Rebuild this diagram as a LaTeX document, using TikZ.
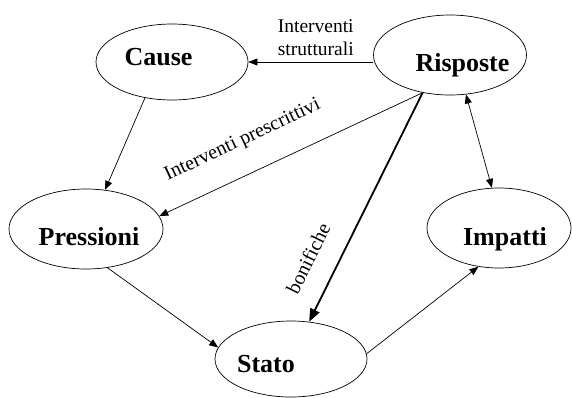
\documentclass[tikz,border=0pt]{standalone}
\usepackage{fontspec}
\setmainfont{Liberation Serif}
\usetikzlibrary{shapes.geometric,arrows.meta}
\tikzset{
  ell/.style={draw,ellipse,line width=0.7pt,inner sep=0pt},
  nome/.style={font=\fontsize{26}{30}\selectfont\bfseries,inner sep=0pt,text height=17pt,text depth=5pt},
  testo/.style={font=\fontsize{20}{23}\selectfont,inner sep=0pt},
  freccia/.style={line width=0.7pt,-{Triangle[length=9pt,width=7pt]}},
}

\begin{document}
\begin{tikzpicture}[x=1pt,y=-1pt]
  \useasboundingbox (0,0) rectangle (572,397);
  \clip (0,0) rectangle (572,397);
  \node[ell,minimum width=152pt,minimum height=76pt,label={[nome,xshift=-13.5pt,yshift=3pt]center:Cause}] (cause) at (172,62) {};
  \node[ell,minimum width=153pt,minimum height=80pt,label={[nome,xshift=12.5pt,yshift=-10.7pt]center:Risposte}] (risposte) at (450,55) {};
  \node[ell,minimum width=154pt,minimum height=80pt,label={[nome,xshift=3pt,yshift=-10.7pt]center:Pressioni}] (pressioni) at (86,229) {};
  \node[ell,minimum width=144pt,minimum height=80pt,label={[nome,xshift=6pt,yshift=-11.7pt]center:Impatti}] (impatti) at (499,228) {};
  \node[ell,minimum width=152pt,minimum height=76pt,label={[nome,xshift=-25pt,yshift=-7.7pt]center:Stato}] (stato) at (291,359) {};

  \draw[freccia] (cause.east -| risposte.west) -- node[testo,font=\fontsize{19.5}{23}\selectfont,align=center,above=6pt,pos=0.46] {Interventi\\strutturali} (cause.east);
  \draw[freccia] (cause.233) -- (pressioni.64);
  \draw[freccia] (risposte.234) -- node[testo,sloped,above=24pt,pos=0.63] {Interventi prescrittivi} (pressioni.10);
  \draw[line width=1.8pt,-{Triangle[length=13pt,width=10pt]}] (risposte.234) -- node[testo,sloped,above=21pt,pos=0.78] {bonifiche} (stato.64);
  \draw[freccia,{Triangle[length=9pt,width=7pt]}-{Triangle[length=9pt,width=7pt]}] (risposte.292) -- (impatti.100);
  \draw[freccia] (pressioni.299) -- (stato.171);
  \draw[freccia] (stato.4) -- (impatti.242);
\end{tikzpicture}
\end{document}
